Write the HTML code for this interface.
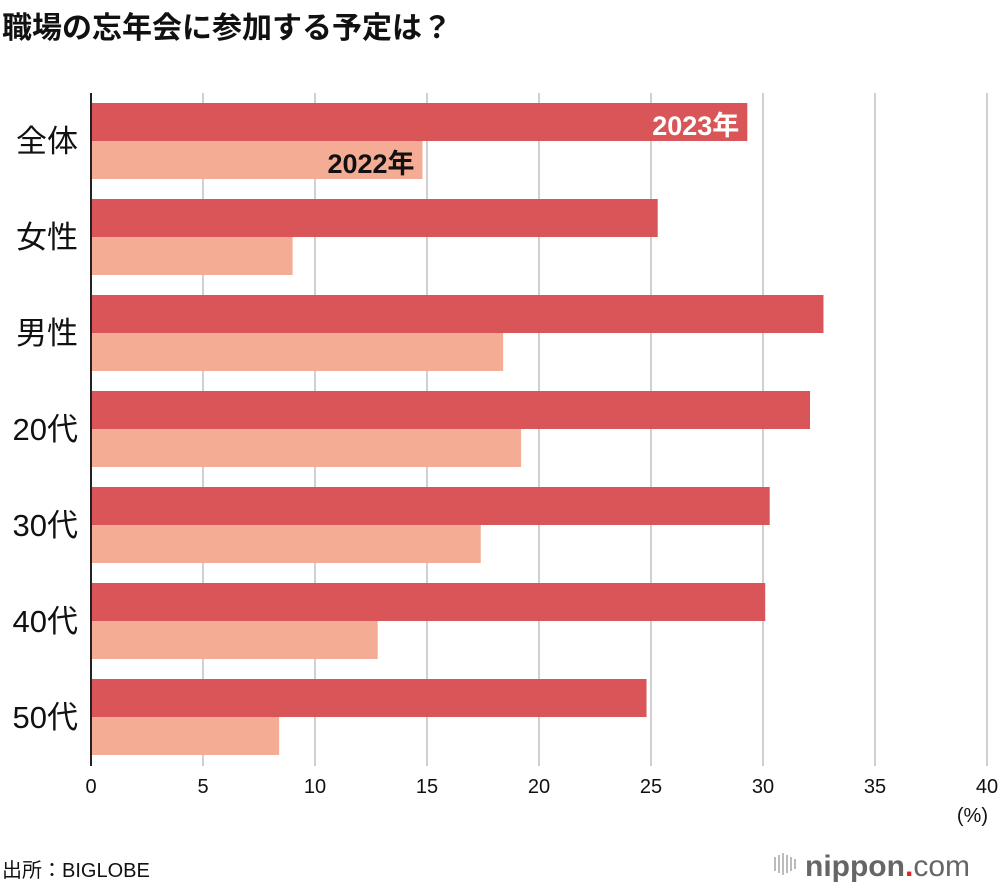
<!DOCTYPE html>
<html><head><meta charset="utf-8"><style>
body{margin:0;background:#fff;width:1000px;height:890px;overflow:hidden}
svg text{font-family:"Liberation Sans","Noto Sans CJK JP",sans-serif}
</style></head><body>
<svg id="c" width="1000" height="890" xmlns="http://www.w3.org/2000/svg">
<text x="2" y="38" font-size="30" font-weight="bold" fill="#111">職場の忘年会に参加する予定は？</text>
<g id="grid"></g><g id="bars"></g><g id="labels"></g>
<line x1="91" y1="93" x2="91" y2="766" stroke="#222" stroke-width="2"/>
<text x="988" y="822" font-size="20" text-anchor="end" fill="#111">(%)</text>
<text x="2" y="877" font-size="20" fill="#111">出所：BIGLOBE</text>
<g>
<g fill="#bbb"><rect x="774" y="857" width="2" height="14"/><rect x="778" y="855" width="2" height="18"/><rect x="782" y="853" width="2" height="22"/><rect x="786" y="855" width="2" height="18"/><rect x="790" y="857" width="2" height="14"/><rect x="794" y="859" width="2" height="10"/></g>
<text x="805" y="876" font-size="30" fill="#666"><tspan font-weight="bold">nippon</tspan><tspan fill="#e0242b" font-weight="bold">.</tspan><tspan>com</tspan></text>
</g>
</svg>
<script>
const categories=["全体","女性","男性","20代","30代","40代","50代"];
const values2023=[29.3,25.3,32.7,32.1,30.3,30.1,24.8];
const values2022=[14.8,9.0,18.4,19.2,17.4,12.8,8.4];
const ticks=[0,5,10,15,20,25,30,35,40];
const NS="http://www.w3.org/2000/svg";
const x=v=>91+v*22.4;
const yTop=i=>103+i*96;
function mk(tag,attrs,parent){const e=document.createElementNS(NS,tag);for(const k in attrs)e.setAttribute(k,attrs[k]);document.getElementById(parent).appendChild(e);return e;}
ticks.forEach(t=>{
 if(t>0){const l=mk('line',{x1:x(t),x2:x(t),y1:93,y2:766,stroke:'#d0d0d0','stroke-width':2},'grid');
 
 }
 const tx=mk('text',{x:x(t),y:793,'font-size':20,'text-anchor':'middle',fill:'#111'},'grid');tx.textContent=t;
 
 
});
categories.forEach((c,i)=>{
 const y=yTop(i);
 const a=mk('rect',{x:92,y:y,width:x(values2023[i])-92,height:38,fill:'#d95557'},'bars');
 
 
 const b=mk('rect',{x:92,y:y+38,width:x(values2022[i])-92,height:38,fill:'#f4ad94'},'bars');
 
 
 const t=mk('text',{x:78,y:y+49,'font-size':31,'text-anchor':'end',fill:'#111'},'labels');t.textContent=c;
 
 
});
const l1=mk('text',{x:x(values2023[0])-8,y:yTop(0)+32,'font-size':27,'font-weight':'bold','text-anchor':'end',fill:'#fff'},'labels');l1.textContent='2023年';


const l2=mk('text',{x:x(values2022[0])-8,y:yTop(0)+70,'font-size':27,'font-weight':'bold','text-anchor':'end',fill:'#111'},'labels');l2.textContent='2022年';


</script>
</body></html>
